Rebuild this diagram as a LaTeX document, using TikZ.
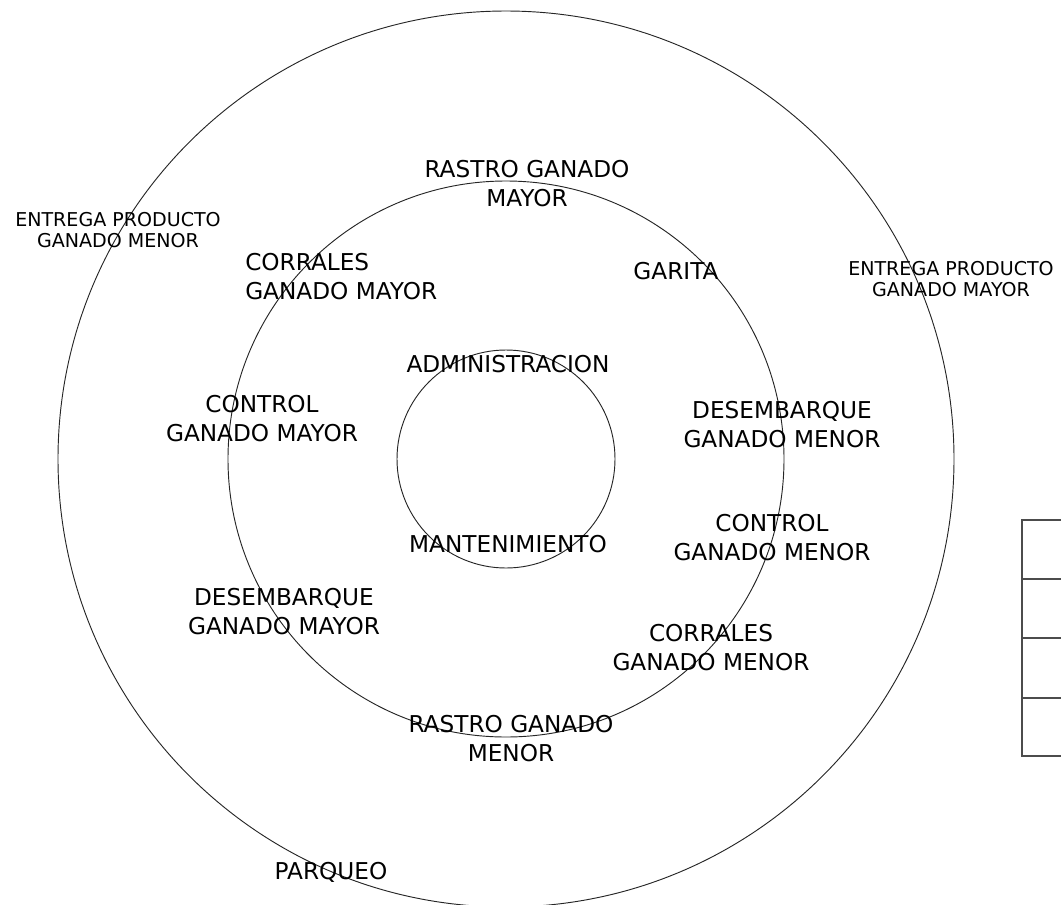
\documentclass[tikz,border=0pt]{standalone}
\usepackage{fontspec}
\setmainfont{DejaVu Sans}
\begin{document}
\begin{tikzpicture}[x=0.75pt,y=-0.75pt,
  ring/.style={draw=black!85,line width=0.7pt},
  big/.style={font=\fontsize{17.4}{22}\selectfont,align=center,inner sep=0pt,anchor=north},
  bigl/.style={font=\fontsize{17.4}{22}\selectfont,align=left,inner sep=0pt,anchor=north west},
  small/.style={font=\fontsize{14.3}{15.75}\selectfont,align=center,inner sep=0pt,anchor=north},
  tab/.style={draw=black!70,line width=1pt}]
\useasboundingbox (0,0) rectangle (1061,904);
\clip (0,0) rectangle (1061,904);
\coordinate (c) at (506,459);
\draw[ring] (c) circle[radius=448];
\draw[ring] (c) circle[radius=278];
\draw[ring] (c) circle[radius=109];
% table
\draw[tab] (1080,520) -- (1022,520) -- (1022,756) -- (1080,756);
\draw[tab] (1022,579) -- (1080,579);
\draw[tab] (1022,638) -- (1080,638);
\draw[tab] (1022,698) -- (1080,698);
% labels
\node[big] (rm) at (527,160) {RASTRO GANADO\\MAYOR};
\node[big] (gar) at (676,262) {GARITA};
\node[small] (epm) at (118,212) {ENTREGA PRODUCTO\\GANADO MENOR};
\node[small] (epM) at (951,261) {ENTREGA PRODUCTO\\GANADO MAYOR};
\node[bigl] (cgM) at (245,253) {CORRALES\\GANADO MAYOR};
\node[big] (adm) at (508,355) {ADMINISTRACION};
\node[big] (ctM) at (262,395) {CONTROL\\GANADO MAYOR};
\node[big] (dsm) at (782,401) {DESEMBARQUE\\GANADO MENOR};
\node[big] (ctm) at (772,514) {CONTROL\\GANADO MENOR};
\node[big] (man) at (508,535) {MANTENIMIENTO};
\node[big] (dsM) at (284,588) {DESEMBARQUE\\GANADO MAYOR};
\node[big] (cgm) at (711,624) {CORRALES\\GANADO MENOR};
\node[big] (rmn) at (511,715) {RASTRO GANADO\\MENOR};
\node[big] (par) at (331,862) {PARQUEO};
\end{tikzpicture}
\end{document}
